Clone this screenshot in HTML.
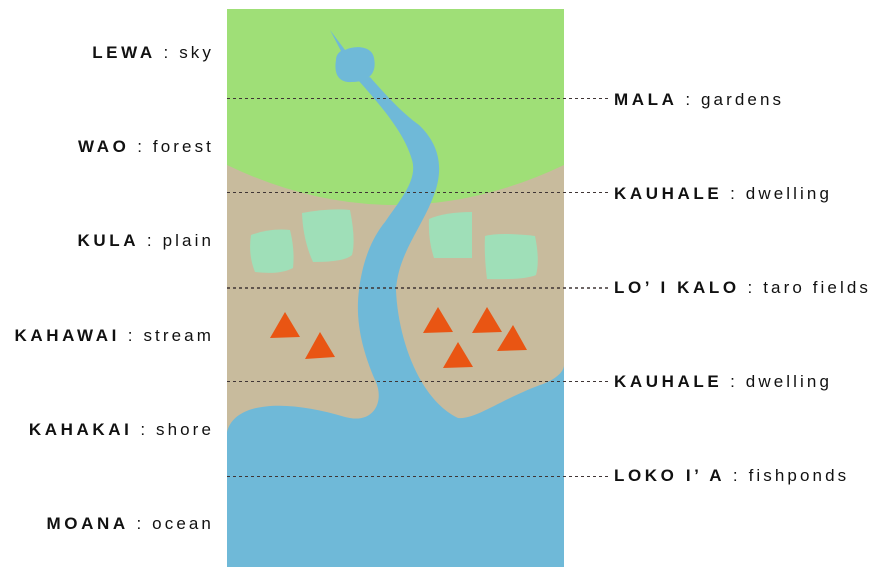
<!DOCTYPE html>
<html><head><style>
html,body{margin:0;padding:0;background:#fff;width:884px;height:577px;overflow:hidden}
svg text{font-family:"Liberation Sans",sans-serif;font-size:17px;fill:#111;letter-spacing:3.1px}
.b{font-weight:bold;letter-spacing:3.6px}
</style></head><body>
<svg width="884" height="577" viewBox="0 0 884 577" xmlns="http://www.w3.org/2000/svg">
<rect x="227" y="9" width="337" height="558" fill="#c8bb9d"/>
<path d="M227 9 H564 V165 Q480 205 395 205 Q310 205 227 165 Z" fill="#9fdf77"/>
<path d="M227 567 V432 C235 400 290 400 345 417 C375 425 385 400 375 380 C362 350 355 320 359 290 C362 265 370 240 385 222 C400 200 418 180 412 160 C405 135 385 110 358 80 L370 77 C390 100 405 115 419 125 C440 145 445 170 432 200 C420 230 398 255 396 290 C398 340 420 400 458 418 C475 420 500 400 540 385 C555 380 564 372 564 365 V567 Z" fill="#6fb9d8"/>
<path d="M330 30 L345 50 C355 45 372 46 374 58 C377 72 370 82 352 82 C337 83 334 72 336 60 C336 56 338 53 341 51 Z" fill="#6fb9d8"/>
<g fill="#9fdfb8">
<path d="M251 235 Q270 228 290 230 Q295 250 293 268 Q280 275 255 272 Q248 255 251 235 Z"/>
<path d="M302 213 Q330 208 350 210 Q356 240 352 255 Q345 262 313 262 Q303 240 302 213 Z"/>
<path d="M429 219 Q445 212 472 212 V258 H434 Q428 240 429 219 Z"/>
<path d="M485 236 Q500 232 535 236 Q540 260 536 275 Q525 280 487 279 Q484 255 485 236 Z"/>
</g>
<g fill="#e95513">
<polygon points="285,312 270,338 300,337"/>
<polygon points="320,332 305,359 335,357"/>
<polygon points="438,307 423,333 453,332"/>
<polygon points="487,307 472,333 502,332"/>
<polygon points="513,325 497,351 527,350"/>
<polygon points="458,342 443,368 473,367"/>
</g>
<g stroke="#3f3535" stroke-width="1" stroke-dasharray="3,3">
<line x1="227" y1="98.5" x2="608" y2="98.5"/>
<line x1="227" y1="192.5" x2="608" y2="192.5"/>
<line x1="227" y1="288" x2="608" y2="288" stroke-width="1.6"/>
<line x1="227" y1="381.5" x2="608" y2="381.5"/>
<line x1="227" y1="476.5" x2="608" y2="476.5"/>
</g>
<g text-anchor="end">
<text x="214" y="58"><tspan class="b">LEWA</tspan> : sky</text>
<text x="214" y="152"><tspan class="b">WAO</tspan> : forest</text>
<text x="214" y="246"><tspan class="b">KULA</tspan> : plain</text>
<text x="214" y="341"><tspan class="b">KAHAWAI</tspan> : stream</text>
<text x="214" y="435"><tspan class="b">KAHAKAI</tspan> : shore</text>
<text x="214" y="529"><tspan class="b">MOANA</tspan> : ocean</text>
</g>
<text x="614" y="105"><tspan class="b">MALA</tspan> : gardens</text>
<text x="614" y="199"><tspan class="b">KAUHALE</tspan> : dwelling</text>
<text x="614" y="293"><tspan class="b">LO’ I KALO</tspan> : taro fields</text>
<text x="614" y="387"><tspan class="b">KAUHALE</tspan> : dwelling</text>
<text x="614" y="481"><tspan class="b">LOKO I’ A</tspan> : fishponds</text>
</svg>
</body></html>
